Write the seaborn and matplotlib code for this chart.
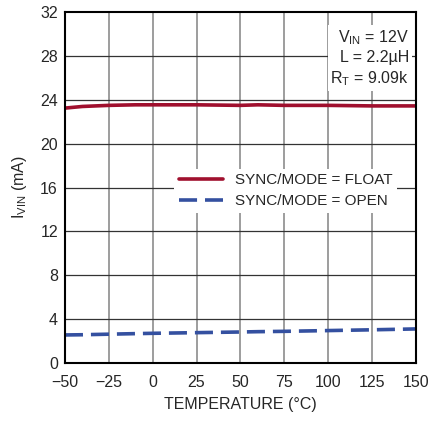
import matplotlib
matplotlib.use("Agg")
import matplotlib.pyplot as plt
import seaborn as sns
import pandas as pd
from matplotlib.lines import Line2D

temps = [-50, -40, -25, -10, 0, 25, 50, 60, 75, 100, 125, 150]
i_float = [23.25, 23.4, 23.5, 23.55, 23.55, 23.55, 23.5, 23.55, 23.5, 23.5, 23.45, 23.45]
i_open = [2.55, 2.57, 2.62, 2.67, 2.7, 2.76, 2.82, 2.85, 2.88, 2.95, 3.02, 3.1]
labels = ["SYNC/MODE = FLOAT", "SYNC/MODE = OPEN"]
colors = ["#a0102e", "#3450a0"]

df = pd.concat([
    pd.DataFrame({"T": temps, "I": i_float, "mode": labels[0]}),
    pd.DataFrame({"T": temps, "I": i_open, "mode": labels[1]}),
])

sns.set_style("white")
plt.rcParams["font.family"] = ["Liberation Sans", "DejaVu Sans"]

fig = plt.figure(figsize=(4.30, 4.21), dpi=100)
ax = fig.add_axes([0.151, 0.138, 0.816, 0.833])

for x in range(-25, 150, 25):
    ax.axvline(x, color="#8c8c8c", lw=1.2, zorder=0)
for y in range(4, 32, 4):
    ax.axhline(y, color="#333333", lw=0.9, zorder=0)

sns.lineplot(data=df, x="T", y="I", hue="mode", style="mode",
             palette=colors, dashes=[(None, None), (5, 2.2)],
             lw=2.6, ax=ax, legend=False)

ax.set_xlim(-50, 150)
ax.set_ylim(0, 32)
ax.set_xticks(range(-50, 151, 25))
ax.set_xticklabels(["\u221250", "\u221225", "0", "25", "50", "75", "100", "125", "150"])
ax.set_yticks(range(0, 33, 4))
ax.tick_params(labelsize=11.5, length=0)
ax.tick_params(axis="x", pad=9)
ax.tick_params(axis="y", pad=5)
ax.set_xlabel("TEMPERATURE (°C)", fontsize=11.5, labelpad=5)
ax.set_ylabel("I$_{\\mathregular{VIN}}$ (mA)", fontsize=11.5, labelpad=8)
for s in ax.spines.values():
    s.set_linewidth(1.5)
    s.set_color("black")

handles = [Line2D([], [], color=colors[0], lw=2.6),
           Line2D([], [], color=colors[1], lw=2.6, dashes=(5, 2.2))]
leg = ax.legend(handles, labels,
                loc="upper left", bbox_to_anchor=(0.29, 0.575), frameon=True,
                fontsize=11, handlelength=2.9, handletextpad=0.75,
                labelspacing=0.45, borderpad=0.3, fancybox=False)
leg.get_frame().set_edgecolor("none")
leg.get_frame().set_facecolor("white")
leg.get_frame().set_alpha(1)

ax.text(0.98, 0.955,
        "V$_{\\mathregular{IN}}$ = 12V\nL = 2.2\u00b5H\nR$_{\\mathregular{T}}$ = 9.09k",
        transform=ax.transAxes, ha="right", va="top", fontsize=11.5,
        linespacing=1.3,
        bbox=dict(facecolor="white", edgecolor="none", pad=2))

fig.savefig("out.png", dpi=100)
